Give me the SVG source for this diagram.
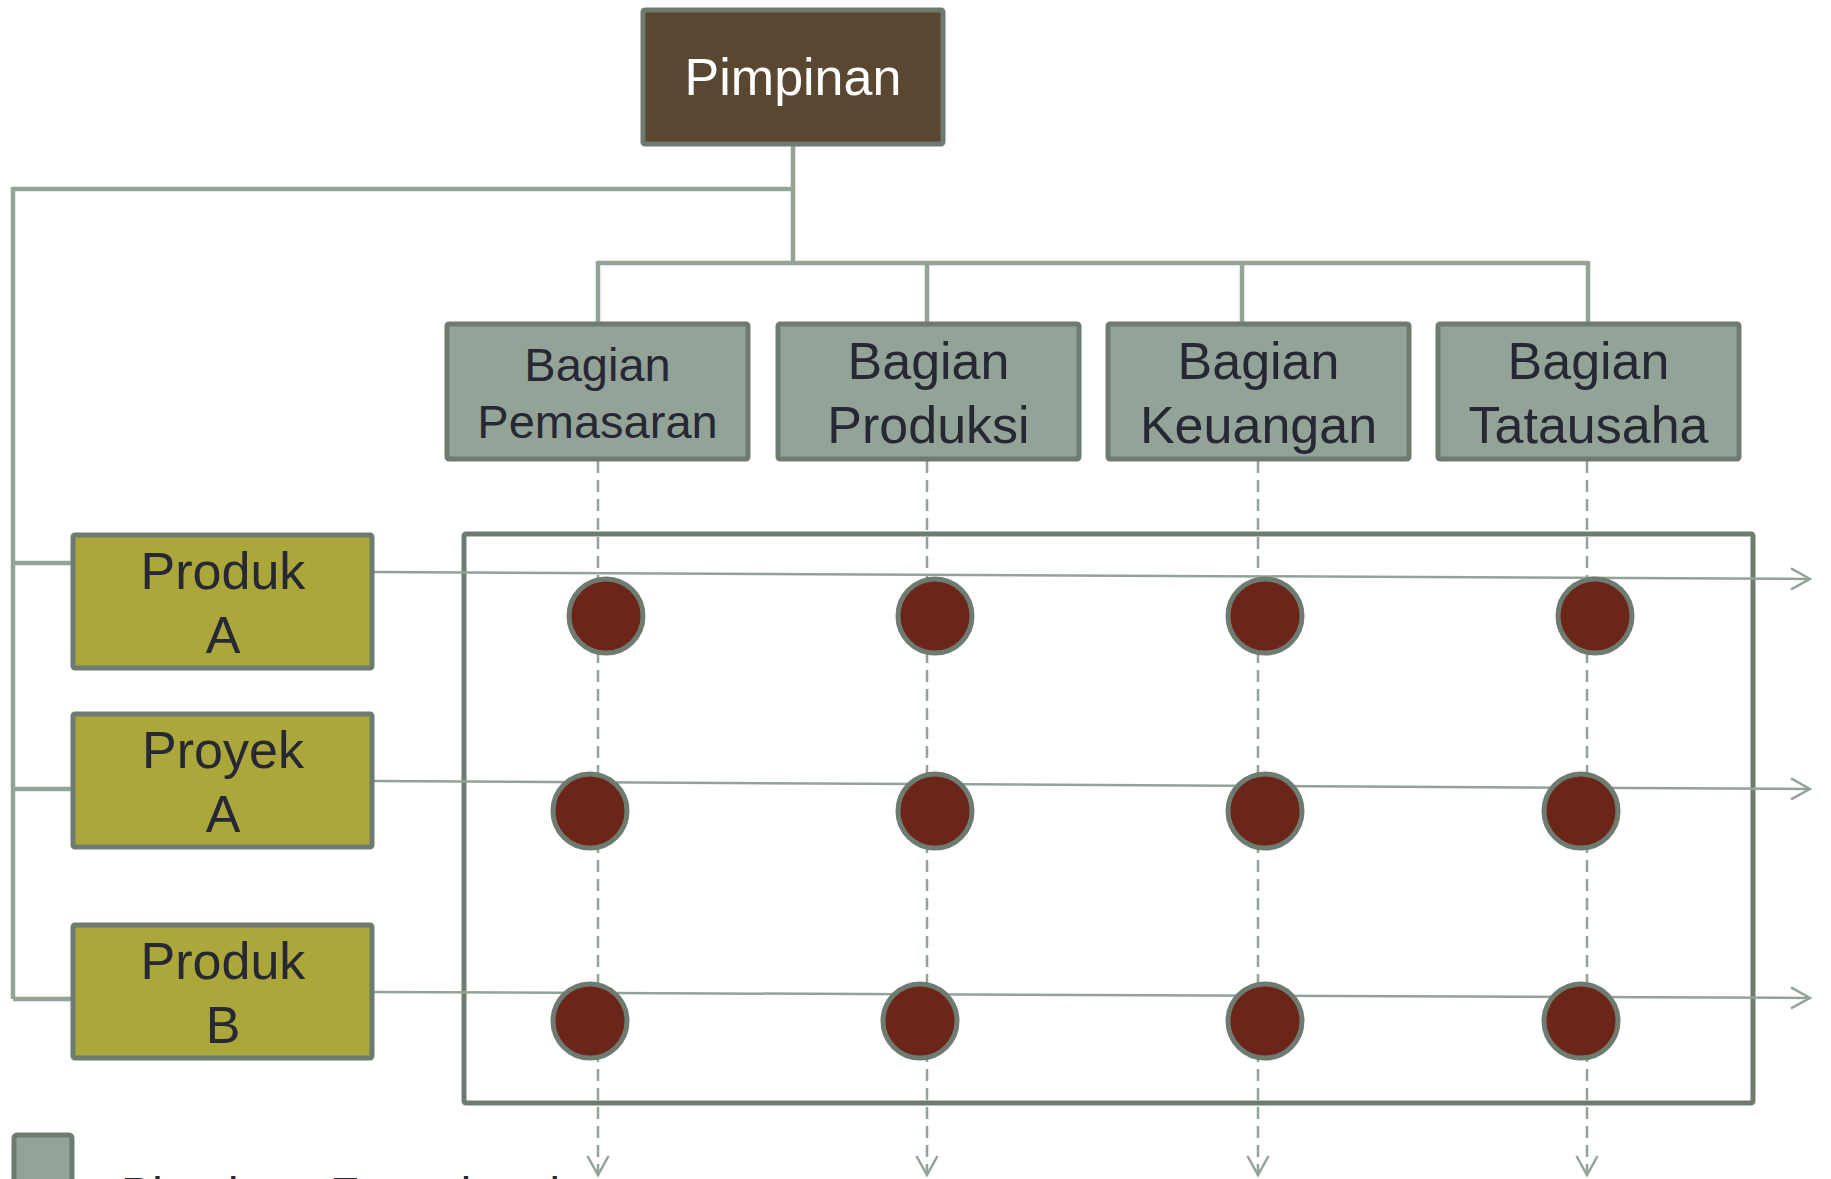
<svg xmlns="http://www.w3.org/2000/svg" width="1831" height="1179" viewBox="0 0 1831 1179">
<style>
.tree{fill:none;stroke:#94a398;stroke-width:4.5}
.flow{fill:none;stroke:#94a398;stroke-width:2.5}
.dash{fill:none;stroke:#94a398;stroke-width:2.5;stroke-dasharray:12 7}
.frame{fill:none;stroke:#6e7b70;stroke-width:5}
.box{stroke:#6e7b70;stroke-width:5}
.top{fill:#5a4731}
.func{fill:#94a397}
.proj{fill:#aca73b}
.dot{fill:#6b2519;stroke:#6e7b70;stroke-width:5}
text{font-family:"Liberation Sans",Arial,sans-serif;text-anchor:middle;fill:#262833}
.w{fill:#ffffff}
</style>
<defs>
<marker id="arr" markerUnits="userSpaceOnUse" viewBox="0 0 22 24" refX="20" refY="12" markerWidth="22" markerHeight="24" orient="auto">
<path d="M1,1.5 L20,12 L1,22.5" fill="none" stroke="#94a398" stroke-width="2.5"/>
</marker>
</defs>
<rect width="1831" height="1179" fill="#ffffff"/>

<rect class="frame" x="464" y="534" width="1289" height="569" rx="2"/>

<g id="connectors">
<path class="tree" d="M793,146 V263 M13,189 H793 M13,187 V999 M13,563 H72 M13,789 H72 M13,999 H72"/>
<path class="tree" d="M598,263 H1588 M598,261 V323 M927,261 V323 M1242,261 V323 M1588,261 V323"/>
<path class="dash" d="M598,461 V1175" marker-end="url(#arr)"/>
<path class="dash" d="M927,461 V1175" marker-end="url(#arr)"/>
<path class="dash" d="M1258,461 V1175" marker-end="url(#arr)"/>
<path class="dash" d="M1587,461 V1175" marker-end="url(#arr)"/>
<path class="flow" d="M374,572 L1810,579" marker-end="url(#arr)"/>
<path class="flow" d="M374,781 L1810,789" marker-end="url(#arr)"/>
<path class="flow" d="M374,992 L1810,998" marker-end="url(#arr)"/>
</g>

<g id="pimpinan">
<rect class="box top" x="643" y="10" width="300" height="134" rx="2"/>
<text class="w" x="793" y="95" font-size="52">Pimpinan</text>
</g>

<g id="bagian-pemasaran">
<rect class="box func" x="447" y="324" width="301" height="135" rx="2"/>
<text x="597.5" y="381" font-size="47">Bagian</text>
<text x="597.5" y="438" font-size="47">Pemasaran</text>
</g>
<g id="bagian-produksi">
<rect class="box func" x="778" y="324" width="301" height="135" rx="2"/>
<text x="928.5" y="379" font-size="52">Bagian</text>
<text x="928.5" y="443" font-size="52">Produksi</text>
</g>
<g id="bagian-keuangan">
<rect class="box func" x="1108" y="324" width="301" height="135" rx="2"/>
<text x="1258.5" y="379" font-size="52">Bagian</text>
<text x="1258.5" y="443" font-size="52">Keuangan</text>
</g>
<g id="bagian-tatausaha">
<rect class="box func" x="1438" y="324" width="301" height="135" rx="2"/>
<text x="1588.5" y="379" font-size="52">Bagian</text>
<text x="1588.5" y="443" font-size="52">Tatausaha</text>
</g>

<g id="produk-a">
<rect class="box proj" x="73" y="535" width="299" height="133" rx="2"/>
<text x="223" y="589" font-size="52">Produk</text>
<text x="223" y="653" font-size="52">A</text>
</g>
<g id="proyek-a">
<rect class="box proj" x="73" y="714" width="299" height="133" rx="2"/>
<text x="223" y="768" font-size="52">Proyek</text>
<text x="223" y="832" font-size="52">A</text>
</g>
<g id="produk-b">
<rect class="box proj" x="73" y="925" width="299" height="133" rx="2"/>
<text x="223" y="979" font-size="52">Produk</text>
<text x="223" y="1043" font-size="52">B</text>
</g>

<g id="cells">
<circle id="c11" class="dot" cx="606" cy="616" r="37"/>
<circle id="c12" class="dot" cx="935" cy="616" r="37"/>
<circle id="c13" class="dot" cx="1265" cy="616" r="37"/>
<circle id="c14" class="dot" cx="1595" cy="616" r="37"/>
<circle id="c21" class="dot" cx="590" cy="811" r="37"/>
<circle id="c22" class="dot" cx="935" cy="811" r="37"/>
<circle id="c23" class="dot" cx="1265" cy="811" r="37"/>
<circle id="c24" class="dot" cx="1581" cy="811" r="37"/>
<circle id="c31" class="dot" cx="590" cy="1021" r="37"/>
<circle id="c32" class="dot" cx="920" cy="1021" r="37"/>
<circle id="c33" class="dot" cx="1265" cy="1021" r="37"/>
<circle id="c34" class="dot" cx="1581" cy="1021" r="37"/>
</g>

<g id="legend">
<rect class="box func" x="14" y="1135" width="58" height="62" rx="3"/>
<text x="121" y="1210" font-size="47" style="text-anchor:start">Pimpinan Fungsional</text>
</g>
</svg>
